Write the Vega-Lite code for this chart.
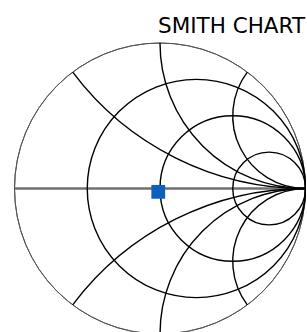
{
  "$schema": "https://vega.github.io/schema/vega-lite/v6.json",
  "width": 291,
  "height": 291,
  "autosize": "none",
  "padding": {"left": 14.5, "top": 43, "right": 0, "bottom": 0},
  "background": "white",
  "config": {"view": {"stroke": null}},
  "title": {
    "text": "SMITH CHART",
    "anchor": "start",
    "dx": 145.5,
    "dy": 26.5,
    "offset": 12,
    "baseline": "alphabetic",
    "font": "DejaVu Sans",
    "fontSize": 21.5,
    "fontWeight": "normal",
    "color": "#000000"
  },
  "datasets": {
    "grid": [
      {"kind": "outer", "cx": 0, "cy": 0, "rad": 1, "a0": 0, "a1": 360},
      {"kind": "res", "cx": 0.25, "cy": 0, "rad": 0.75, "a0": 0, "a1": 360},
      {"kind": "res", "cx": 0.5, "cy": 0, "rad": 0.5, "a0": 0, "a1": 360},
      {"kind": "res", "cx": 0.75, "cy": 0, "rad": 0.25, "a0": 0, "a1": 360},
      {"kind": "reac", "cx": 1, "cy": 2, "rad": 2, "a0": 180, "a1": 233.13},
      {"kind": "reac", "cx": 1, "cy": -2, "rad": 2, "a0": 306.87, "a1": 360},
      {"kind": "reac", "cx": 1, "cy": 1, "rad": 1, "a0": 180, "a1": 270},
      {"kind": "reac", "cx": 1, "cy": -1, "rad": 1, "a0": 270, "a1": 360},
      {"kind": "reac", "cx": 1, "cy": 0.5, "rad": 0.5, "a0": 180, "a1": 306.87},
      {"kind": "reac", "cx": 1, "cy": -0.5, "rad": 0.5, "a0": 233.13, "a1": 360}
    ],
    "realaxis": [{"x1": -1, "x2": 1, "y": 0}],
    "points": [{"re": -0.012, "im": -0.023}]
  },
  "layer": [
    {
      "data": {"name": "realaxis"},
      "mark": {"type": "rule", "color": "#707070", "strokeWidth": 2.5},
      "encoding": {
        "x": {"field": "x1", "type": "quantitative", "scale": {"domain": [-1, 1], "zero": false, "nice": false}, "axis": null},
        "x2": {"field": "x2"},
        "y": {"field": "y", "type": "quantitative", "scale": {"domain": [-1, 1], "zero": false, "nice": false}, "axis": null}
      }
    },
    {
      "data": {"name": "grid"},
      "transform": [{"filter": "datum.kind === 'outer'"}],
      "mark": {"type": "arc", "filled": false, "stroke": "#555555", "strokeWidth": 1},
      "encoding": {
        "x": {"field": "cx", "type": "quantitative"},
        "y": {"field": "cy", "type": "quantitative"},
        "theta": {"field": "a0", "type": "quantitative", "stack": null, "scale": {"type": "linear", "domain": [0, 360], "range": [0, 6.283185307179586], "zero": true, "nice": false}},
        "theta2": {"field": "a1"},
        "radius": {"field": "rad", "type": "quantitative", "stack": null, "scale": {"type": "linear", "domain": [0, 1], "range": [0, 145.5], "zero": true, "nice": false}},
        "radius2": {"field": "rad"}
      }
    },
    {
      "data": {"name": "grid"},
      "transform": [{"filter": "datum.kind !== 'outer'"}],
      "mark": {"type": "arc", "filled": false, "stroke": "#000000", "strokeWidth": 1.4},
      "encoding": {
        "x": {"field": "cx", "type": "quantitative"},
        "y": {"field": "cy", "type": "quantitative"},
        "theta": {"field": "a0", "type": "quantitative", "stack": null},
        "theta2": {"field": "a1"},
        "radius": {"field": "rad", "type": "quantitative", "stack": null},
        "radius2": {"field": "rad"}
      }
    },
    {
      "data": {"name": "points"},
      "mark": {"type": "point", "shape": "square", "filled": true, "size": 190, "color": "#0F5FBE", "opacity": 1},
      "encoding": {
        "x": {"field": "re", "type": "quantitative"},
        "y": {"field": "im", "type": "quantitative"}
      }
    }
  ]
}
